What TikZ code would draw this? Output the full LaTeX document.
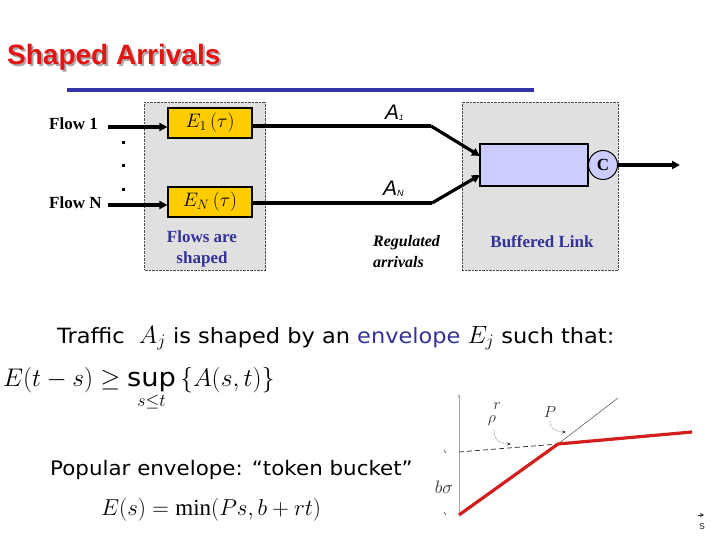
\RequirePackage{fix-cm}
\documentclass[tikz,border=0pt]{standalone}
\usepackage{amsmath}
\usepackage{fontspec}
\setmainfont{Liberation Serif}
\newfontfamily\comic[FakeStretch=1.07]{DejaVu Sans}
\newfontfamily\titlefont{Liberation Sans}
\newfontfamily\arialfont{Liberation Sans}
\usetikzlibrary{arrows.meta}
\definecolor{titlered}{RGB}{228,20,20}
\definecolor{titleshadow}{RGB}{170,170,170}
\definecolor{rulecol}{RGB}{51,51,170}
\definecolor{txtblue}{RGB}{51,51,153}
\definecolor{boxgray}{RGB}{224,224,224}
\definecolor{gold}{RGB}{255,204,0}
\definecolor{lav}{RGB}{204,204,255}
\definecolor{curvered}{RGB}{210,30,30}
\newcommand\bigmath[1]{{\fontsize{25}{25}\selectfont$#1$}}
\tikzset{
  graybox/.style={draw=black!70, densely dotted, fill=boxgray, inner sep=0},
  ybox/.style={draw=black, line width=1.2pt, fill=gold, minimum width=84, minimum height=30, inner sep=0, font=\fontsize{19.5}{21}\selectfont},
  bufbox/.style={draw=black, line width=1.2pt, fill=lav, minimum width=108, minimum height=42, inner sep=0},
  capnode/.style={circle, draw=black, line width=1pt, fill=lav, minimum size=29, inner sep=0, font=\fontsize{17}{19}\selectfont\bfseries},
  thickarr/.style={line width=3.2pt, -{Triangle[length=8pt,width=8pt]}},
  thickline/.style={line width=3.2pt},
  lbl/.style={inner sep=0, anchor=base west},
  flowlbl/.style={inner sep=0, anchor=base west, font=\fontsize{17}{19}\selectfont\bfseries},
  bluelbl/.style={inner sep=0, text=txtblue, align=center, font=\fontsize{17}{21}\selectfont\bfseries},
  body/.style={inner sep=0, anchor=base west, font=\fontsize{21}{24}\selectfont\comic},
  graphlbl/.style={inner sep=0, text=black!80, font=\fontsize{16}{18}\selectfont},
}
\begin{document}
\begin{tikzpicture}[x=1pt,y=-1pt]
\useasboundingbox (0,0) rectangle (720,540);
\fill[white] (0,0) rectangle (720,540);
% title
\node[lbl, text=titleshadow, font=\fontsize{28}{30}\selectfont\titlefont\bfseries] at (9,67) {Shaped Arrivals};
\node (title) [lbl, text=titlered, font=\fontsize{28}{30}\selectfont\titlefont\bfseries] at (7,65) {Shaped Arrivals};
\draw[line width=4pt, rulecol] (67,90) -- (534,90);
% gray panels
\node (shapebox) [graybox, minimum width=121, minimum height=168] at (205,186) {};
\node (linkbox) [graybox, minimum width=156, minimum height=168] at (540,186) {};
% yellow shapers
\node (e1) [ybox] at (210,123) {$E_1\,(\tau)$};
\node (en) [ybox] at (210,202) {$E_N\,(\tau)$};
% flow labels and arrows
\node (f1) [flowlbl] at (49,130) {Flow 1};
\node (fn) [flowlbl] at (49,208) {Flow N};
\coordinate (f1s) at (108,127);
\coordinate (fns) at (108,205);
\draw[thickarr] (f1s) -- (e1.west |- f1s);
\draw[thickarr] (fns) -- (en.west |- fns);
\foreach \yy in {143,166,190} \fill (121.5,\yy-1.5) rectangle (124.5,\yy+1.5);
% buffered link
\node (buf) [bufbox] at (534,165) {};
\node (cap) [capnode] at (603,165) {C};
\coordinate (k1) at (431,126);
\coordinate (kn) at (432,203);
\coordinate (b1) at (480,156);
\coordinate (bn) at (480,175);
\draw[thickline] (e1.east |- k1) -- (k1);
\draw[thickarr] (k1) -- (b1);
\draw[thickline] (en.east |- kn) -- (kn);
\draw[thickarr] (kn) -- (bn);
\coordinate (out) at (680,165);
\draw[thickarr] (cap.east) -- (out);
% A labels
\node (a1) [lbl, font=\fontsize{21}{23}\selectfont\arialfont\itshape] at (385,120) {A\raisebox{-1pt}{\fontsize{8}{8}\selectfont 1}};
\node (an) [lbl, font=\fontsize{21}{23}\selectfont\arialfont\itshape] at (383,196) {A\raisebox{-1pt}{\fontsize{9}{9}\selectfont N}};
% captions
\node (fas) [bluelbl] at (202,249) {Flows are\\shaped};
\node (reg) [inner sep=0, align=left, anchor=north west, font=\fontsize{16}{21}\selectfont\bfseries\itshape] at (373,235) {Regulated\\arrivals};
\node (bl) [bluelbl] at (542,242) {Buffered Link};
% body text
\node (traffic) [body] at (57,343) {Traffic\ \ \bigmath{A_j} is shaped by an \textcolor{txtblue}{envelope} \bigmath{E_j} such that:};
\node (ineq) [lbl, font=\fontsize{25.5}{28}\selectfont] at (3,386) {$E(t-s)\geq \mathop{\text{\comic sup}}\limits_{s\leq t}\,\{A(s,t)\}$};
\node (pop) [body, font=\fontsize{20}{24}\selectfont\comic] at (50,475) {Popular envelope: “token bucket”};
\node (tb) [lbl, font=\fontsize{23}{25}\selectfont] at (101,515) {$E(s) = \min(Ps, b + rt)$};
% graph
\coordinate (o) at (459,515);
\coordinate (ytop) at (459,394);
\coordinate (kink) at (558,444);
\coordinate (rend) at (692,432);
\coordinate (bpt) at (459,452);
\coordinate (pend) at (618,398);
\draw[black!35, line width=0.6pt, -{Stealth[length=4pt,width=3pt]}] (o) -- (ytop);
\draw[black!70, line width=0.5pt] (kink) -- (pend);
\draw[black!85, dashed, line width=0.7pt, dash pattern=on 5pt off 3pt] (bpt) -- (kink);
\draw[curvered, line width=3.2pt, line join=round] (o) -- (kink) -- (rend);
\draw[black!70, line width=0.6pt] (444,450) -- (446,453);
\draw[black!70, line width=0.6pt] (444,512) -- (446,515);
\coordinate (xa) at (698,515);
\coordinate (xb) at (704,515);
\draw[black!80, -{Stealth[length=4pt,width=4pt]}] (xa) -- (xb);
\node (slbl) [graphlbl, font=\fontsize{11}{12}\selectfont\arialfont] at (702,527) {s};
\node (plbl) [graphlbl] at (550,412) {$P$};
\node (rlbl) [graphlbl] at (497,406) {$r$};
\node (rholbl) [graphlbl] at (492,421) {$\rho$};
\node (blbl) [graphlbl, font=\fontsize{18}{20}\selectfont] at (444,487) {$b\sigma$};
\coordinate (ra) at (494,430);
\coordinate (rb) at (511,444);
\coordinate (pa) at (550,421);
\coordinate (pb) at (566,432);
\draw[black!80, line width=0.5pt, densely dotted, -{Stealth[length=4pt,width=3pt]}] (ra) .. controls (494,441) and (501,444) .. (rb);
\draw[black!80, line width=0.5pt, densely dotted, -{Stealth[length=4pt,width=3pt]}] (pa) .. controls (550,429) and (556,432) .. (pb);
\end{tikzpicture}
\end{document}
